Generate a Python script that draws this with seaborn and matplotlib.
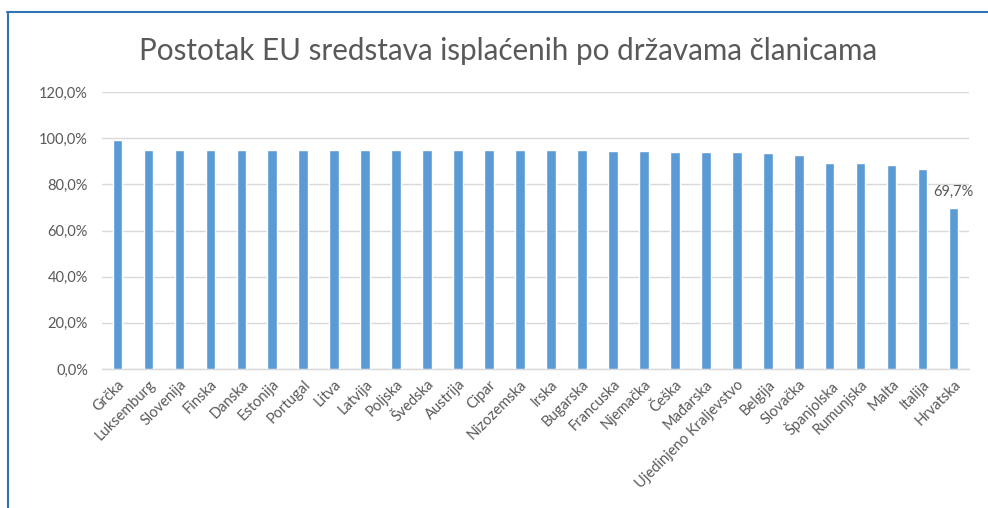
import matplotlib
matplotlib.use("Agg")
import matplotlib.pyplot as plt
import seaborn as sns
import pandas as pd
from matplotlib.lines import Line2D
from matplotlib.ticker import FuncFormatter

countries = ["Grčka", "Luksemburg", "Slovenija", "Finska", "Danska", "Estonija",
             "Portugal", "Litva", "Latvija", "Poljska", "Švedska", "Austrija",
             "Cipar", "Nizozemska", "Irska", "Bugarska", "Francuska", "Njemačka",
             "Češka", "Mađarska", "Ujedinjeno Kraljevstvo", "Belgija", "Slovačka",
             "Španjolska", "Rumunjska", "Malta", "Italija", "Hrvatska"]
values = [99.3, 95.0, 95.0, 95.0, 95.0, 95.0,
          95.0, 95.0, 95.0, 95.0, 95.0, 95.0,
          95.0, 95.0, 95.0, 95.0, 94.6, 94.6,
          93.8, 93.8, 93.8, 93.4, 92.7,
          89.1, 89.1, 88.2, 86.8, 69.7]
labelled = {"Hrvatska": "69,7%"}

df = pd.DataFrame({"country": countries, "value": values})

sns.set_theme(style="white")
plt.rcParams["font.family"] = ["Lato", "DejaVu Sans"]
text_color = "#595959"
grid_color = "#D9D9D9"

fig = plt.figure(figsize=(9.88, 5.08), dpi=100)
ax = fig.add_axes([0.1032, 0.2736, 0.8776, 0.5453])

sns.barplot(data=df, x="country", y="value", color="#5B9BD5", width=0.31,
            saturation=1, ax=ax, zorder=3)

ax.set_ylim(0, 120)
ax.set_yticks(range(0, 121, 20))
ax.yaxis.set_major_formatter(FuncFormatter(lambda v, p: f"{v:.1f}%".replace(".", ",")))
ax.grid(axis="y", color=grid_color, linewidth=1, zorder=0)
ax.set_xlim(-0.5, len(countries) - 0.5)
for s in ["top", "right", "left"]:
    ax.spines[s].set_visible(False)
ax.spines["bottom"].set_color(grid_color)
ax.spines["bottom"].set_linewidth(1)
ax.set_xlabel("")
ax.set_ylabel("")
ax.tick_params(axis="y", length=0, pad=10, labelsize=10.5, labelcolor=text_color)
ax.tick_params(axis="x", length=0, pad=6, labelsize=10.5, labelcolor=text_color)
plt.setp(ax.get_xticklabels(), rotation=45, ha="right", rotation_mode="anchor")

# data label only on the last bar
for i, (c, v) in enumerate(zip(countries, values)):
    if c in labelled:
        ax.annotate(labelled[c], (i, v), xytext=(0, 7), textcoords="offset points",
                    ha="center", va="bottom", fontsize=10.5, color=text_color)

fig.text(0.514, 1 - 51 / 508, "Postotak EU sredstava isplaćenih po državama članicama",
         ha="center", va="center", fontsize=21.3, color=text_color)

# chart frame (top and left edges visible in the screenshot)
fig.add_artist(Line2D([7 / 988, 1], [1 - 12 / 508, 1 - 12 / 508],
                      transform=fig.transFigure, color="#2E75B6", linewidth=1.5))
fig.add_artist(Line2D([8 / 988, 8 / 988], [0, 1 - 12 / 508],
                      transform=fig.transFigure, color="#2E75B6", linewidth=1.5))

fig.savefig("out.png", dpi=100)
